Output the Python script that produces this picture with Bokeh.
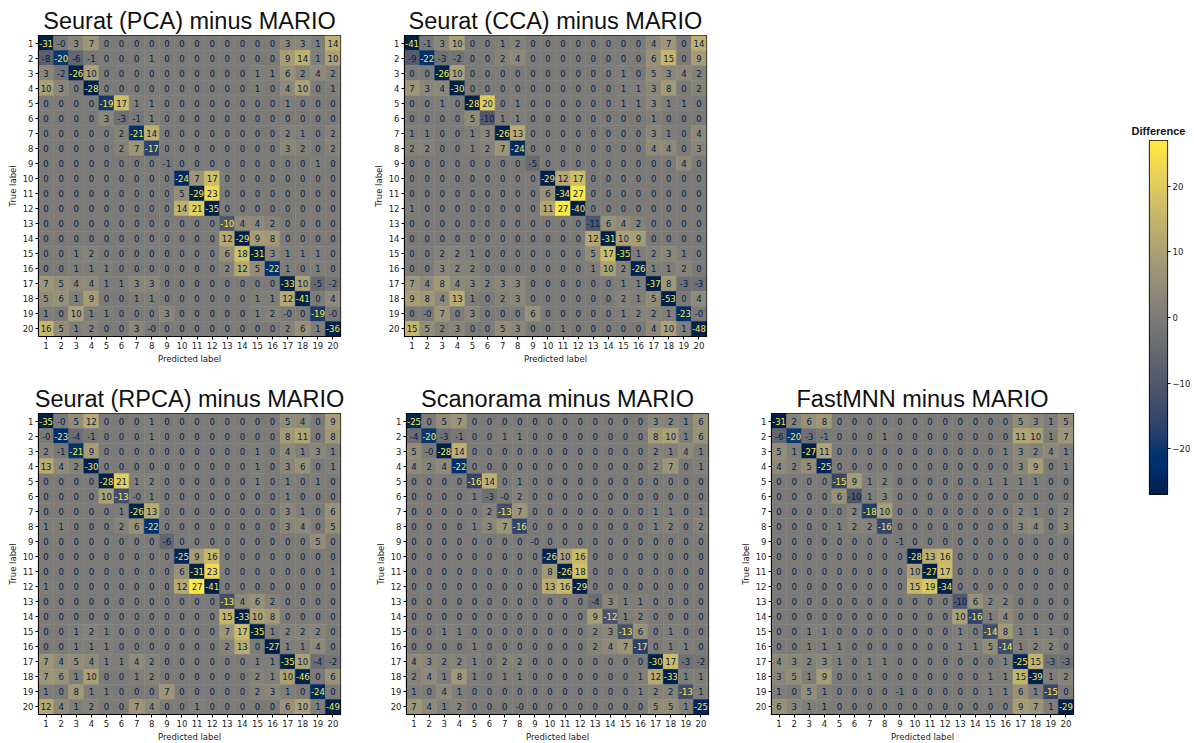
import numpy as np
from bokeh.plotting import figure
from bokeh.layouts import row, column
from bokeh.models import ColumnDataSource, Range1d, FixedTicker, LinearColorMapper, LinearAxis
from bokeh.palettes import Cividis256
from bokeh.core.properties import value
from bokeh.embed import file_html
from bokeh.resources import INLINE

# Class labels shared by every confusion-matrix difference
class_labels = [str(i) for i in range(1, 21)]

# Difference matrices (method minus MARIO); rows = true label, cols = predicted label.
# Small negative entries (shown as "-0") are kept as fractional negatives.
seurat_pca = [
    [-31, -0.4, 3, 7, 0, 0, 0, 0, 0, 0, 0, 0, 0, 0, 0, 0, 3, 3, 1, 14],
    [-8, -20, -6, -1, 0, 0, 0, 1, 0, 0, 0, 0, 0, 0, 0, 0, 9, 14, 1, 10],
    [3, -2, -26, 10, 0, 0, 0, 0, 0, 0, 0, 0, 0, 0, 1, 1, 6, 2, 4, 2],
    [10, 3, 0, -28, 0, 0, 0, 0, 0, 0, 0, 0, 0, 0, 1, 0, 4, 10, 0, 1],
    [0, 0, 0, 0, -19, 17, 1, 1, 0, 0, 0, 0, 0, 0, 0, 0, 1, 0, 0, 0],
    [0, 0, 0, 0, 3, -3, -1, 1, 0, 0, 0, 0, 0, 0, 0, 0, 0, 0, 0, 0],
    [0, 0, 0, 0, 0, 2, -21, 14, 0, 0, 0, 0, 0, 0, 0, 0, 2, 1, 0, 2],
    [0, 0, 0, 0, 0, 2, 7, -17, 0, 0, 0, 0, 0, 0, 0, 0, 3, 2, 0, 2],
    [0, 0, 0, 0, 0, 0, 0, 0, -1, 0, 0, 0, 0, 0, 0, 0, 0, 0, 1, 0],
    [0, 0, 0, 0, 0, 0, 0, 0, 0, -24, 7, 17, 0, 0, 0, 0, 0, 0, 0, 0],
    [0, 0, 0, 0, 0, 0, 0, 0, 0, 5, -29, 23, 0, 0, 0, 0, 0, 0, 0, 0],
    [0, 0, 0, 0, 0, 0, 0, 0, 0, 14, 21, -35, 0, 0, 0, 0, 0, 0, 0, 0],
    [0, 0, 0, 0, 0, 0, 0, 0, 0, 0, 0, 0, -10, 4, 4, 2, 0, 0, 0, 0],
    [0, 0, 0, 0, 0, 0, 0, 0, 0, 0, 0, 0, 12, -29, 9, 8, 0, 0, 0, 0],
    [0, 0, 1, 2, 0, 0, 0, 0, 0, 0, 0, 0, 6, 18, -31, 3, 1, 1, 1, 0],
    [0, 0, 1, 1, 1, 0, 0, 0, 0, 0, 0, 0, 2, 12, 5, -22, 1, 0, 1, 0],
    [7, 5, 4, 4, 1, 1, 3, 3, 0, 0, 0, 0, 0, 0, 0, 0, -33, 10, -5, -2],
    [5, 6, 1, 9, 0, 0, 1, 1, 0, 0, 0, 0, 0, 0, 1, 1, 12, -41, 0, 4],
    [1, 0, 10, 1, 1, 0, 0, 0, 3, 0, 0, 0, 0, 0, 1, 2, -0.4, 0, -19, -0.4],
    [16, 5, 1, 2, 0, 0, 3, -0.4, 0, 0, 0, 0, 0, 0, 0, 0, 2, 6, 1, -36],
]

seurat_cca = [
    [-41, -1, 3, 10, 0, 0, 1, 2, 0, 0, 0, 0, 0, 0, 0, 0, 4, 7, 0, 14],
    [-9, -22, -3, -2, 0, 0, 2, 4, 0, 0, 0, 0, 0, 0, 0, 0, 6, 15, 0, 9],
    [0, 0, -26, 10, 0, 0, 0, 0, 0, 0, 0, 0, 0, 0, 1, 0, 5, 3, 4, 2],
    [7, 3, 4, -30, 0, 0, 0, 0, 0, 0, 0, 0, 0, 0, 1, 1, 3, 8, 0, 2],
    [0, 0, 1, 0, -28, 20, 0, 1, 0, 0, 0, 0, 0, 0, 1, 1, 3, 1, 1, 0],
    [0, 0, 0, 0, 5, -10, 1, 1, 0, 0, 0, 0, 0, 0, 0, 0, 1, 0, 0, 0],
    [1, 1, 0, 0, 1, 3, -26, 13, 0, 0, 0, 0, 0, 0, 0, 0, 3, 1, 0, 4],
    [2, 2, 0, 0, 1, 2, 7, -24, 0, 0, 0, 0, 0, 0, 0, 0, 4, 4, 0, 3],
    [0, 0, 0, 0, 0, 0, 0, 0, -5, 0, 0, 0, 0, 0, 0, 0, 0, 0, 4, 0],
    [0, 0, 0, 0, 0, 0, 0, 0, 0, -29, 12, 17, 0, 0, 0, 0, 0, 0, 0, 0],
    [0, 0, 0, 0, 0, 0, 0, 0, 0, 6, -34, 27, 0, 0, 0, 0, 0, 0, 0, 0],
    [1, 0, 0, 0, 0, 0, 0, 0, 0, 11, 27, -40, 0, 0, 0, 0, 0, 0, 0, 0],
    [0, 0, 0, 0, 0, 0, 0, 0, 0, 0, 0, 0, -11, 6, 4, 2, 0, 0, 0, 0],
    [0, 0, 0, 0, 0, 0, 0, 0, 0, 0, 0, 0, 12, -31, 10, 9, 0, 0, 0, 0],
    [0, 0, 2, 2, 1, 0, 0, 0, 0, 0, 0, 0, 5, 17, -35, 1, 2, 3, 1, 0],
    [0, 0, 3, 2, 2, 0, 0, 0, 0, 0, 0, 0, 1, 10, 2, -26, 1, 1, 2, 0],
    [7, 4, 8, 4, 3, 2, 3, 3, 0, 0, 0, 0, 0, 0, 1, 1, -37, 8, -3, -3],
    [9, 8, 4, 13, 1, 0, 2, 3, 0, 0, 0, 0, 0, 0, 2, 1, 5, -53, 0, 4],
    [0, -0.4, 7, 0, 3, 0, 0, 0, 6, 0, 0, 0, 0, 0, 1, 2, 2, 1, -23, -0.4],
    [15, 5, 2, 3, 0, 0, 5, 3, 0, 0, 1, 0, 0, 0, 0, 0, 4, 10, 1, -48],
]

seurat_rpca = [
    [-35, -0.4, 5, 12, 0, 0, 0, 1, 0, 0, 0, 0, 0, 0, 0, 0, 5, 4, 0, 9],
    [-0.4, -23, -4, -1, 0, 0, 0, 1, 0, 0, 0, 0, 0, 0, 0, 0, 8, 11, 0, 8],
    [2, -1, -21, 9, 0, 0, 0, 0, 0, 0, 0, 0, 0, 0, 1, 0, 4, 1, 3, 1],
    [13, 4, 2, -30, 0, 0, 0, 0, 0, 0, 0, 0, 0, 0, 1, 0, 3, 6, 0, 1],
    [0, 0, 0, 0, -28, 21, 1, 2, 0, 0, 0, 0, 0, 0, 1, 0, 1, 0, 1, 0],
    [0, 0, 0, 0, 10, -13, -0.4, 1, 0, 0, 0, 0, 0, 0, 0, 0, 1, 0, 0, 0],
    [0, 0, 0, 0, 0, 1, -26, 13, 0, 0, 0, 0, 0, 0, 0, 0, 3, 1, 0, 6],
    [1, 1, 0, 0, 0, 2, 6, -22, 0, 0, 0, 0, 0, 0, 0, 0, 3, 4, 0, 5],
    [0, 0, 0, 0, 0, 0, 0, 0, -6, 0, 0, 0, 0, 0, 0, 0, 0, 0, 5, 0],
    [0, 0, 0, 0, 0, 0, 0, 0, 0, -25, 9, 16, 0, 0, 0, 0, 0, 0, 0, 0],
    [0, 0, 0, 0, 0, 0, 0, 0, 0, 6, -31, 23, 0, 0, 0, 0, 0, 0, 0, 1],
    [1, 0, 0, 0, 0, 0, 0, 0, 0, 12, 27, -41, 0, 0, 0, 0, 0, 0, 0, 0],
    [0, 0, 0, 0, 0, 0, 0, 0, 0, 0, 0, 0, -13, 4, 6, 2, 0, 0, 0, 0],
    [0, 0, 0, 0, 0, 0, 0, 0, 0, 0, 0, 0, 15, -33, 10, 8, 0, 0, 0, 0],
    [0, 0, 1, 2, 1, 0, 0, 0, 0, 0, 0, 0, 7, 17, -35, 1, 2, 2, 2, 0],
    [0, 0, 1, 1, 1, 0, 0, 0, 0, 0, 0, 0, 2, 13, 0, -27, 1, 1, 4, 0],
    [7, 4, 5, 4, 1, 1, 4, 2, 0, 0, 0, 0, 0, 0, 1, 1, -35, 10, -4, -2],
    [7, 6, 1, 10, 0, 0, 1, 2, 0, 0, 0, 0, 0, 0, 2, 1, 10, -46, 0, 6],
    [1, 0, 8, 1, 1, 0, 0, 0, 7, 0, 0, 0, 0, 0, 2, 3, 1, 0, -24, 0],
    [12, 4, 1, 2, 0, 0, 7, 4, 0, 0, 1, 0, 0, 0, 0, 0, 6, 10, 1, -49],
]

scanorama = [
    [-25, 0, 5, 7, 0, 0, 0, 0, 0, 0, 0, 0, 0, 0, 0, 0, 3, 2, 1, 6],
    [-4, -20, -3, -1, 0, 0, 1, 1, 0, 0, 0, 0, 0, 0, 0, 0, 8, 10, 1, 6],
    [5, -0.4, -28, 14, 0, 0, 0, 0, 0, 0, 0, 0, 0, 0, 0, 0, 2, 1, 4, 1],
    [4, 2, 4, -22, 0, 0, 0, 0, 0, 0, 0, 0, 0, 0, 0, 0, 2, 7, 0, 1],
    [0, 0, 0, 0, -16, 14, 0, 1, 0, 0, 0, 0, 0, 0, 0, 0, 0, 0, 0, 0],
    [0, 0, 0, 0, 1, -3, -0.4, 2, 0, 0, 0, 0, 0, 0, 0, 0, 0, 0, 0, 0],
    [0, 0, 0, 0, 0, 2, -13, 7, 0, 0, 0, 0, 0, 0, 0, 0, 1, 1, 0, 1],
    [0, 0, 0, 0, 1, 3, 7, -16, 0, 0, 0, 0, 0, 0, 0, 0, 1, 2, 0, 2],
    [0, 0, 0, 0, 0, 0, 0, 0, -0.4, 0, 0, 0, 0, 0, 0, 0, 0, 0, 0, 0],
    [0, 0, 0, 0, 0, 0, 0, 0, 0, -26, 10, 16, 0, 0, 0, 0, 0, 0, 0, 0],
    [0, 0, 0, 0, 0, 0, 0, 0, 0, 8, -26, 18, 0, 0, 0, 0, 0, 0, 0, 0],
    [0, 0, 0, 0, 0, 0, 0, 0, 0, 13, 16, -29, 0, 0, 0, 0, 0, 0, 0, 0],
    [0, 0, 0, 0, 0, 0, 0, 0, 0, 0, 0, 0, -4, 3, 1, 1, 0, 0, 0, 0],
    [0, 0, 0, 0, 0, 0, 0, 0, 0, 0, 0, 0, 9, -12, 1, 2, 0, 0, 0, 0],
    [0, 0, 1, 1, 0, 0, 0, 0, 0, 0, 0, 0, 2, 3, -13, 6, 0, 1, 0, 0],
    [0, 0, 0, 0, 1, 0, 0, 0, 0, 0, 0, 0, 2, 4, 7, -17, 0, 1, 1, 0],
    [4, 3, 2, 2, 1, 0, 2, 2, 0, 0, 0, 0, 0, 0, 0, 0, -30, 17, -3, -2],
    [2, 4, 1, 8, 1, 0, 1, 1, 0, 0, 0, 0, 0, 0, 0, 1, 12, -33, 1, 1],
    [1, 0, 4, 1, 0, 0, 0, 0, 0, 0, 0, 0, 0, 0, 0, 1, 2, 2, -13, 1],
    [7, 4, 1, 2, 0, 0, 0, -0.4, 0, 0, 0, 0, 0, 0, 0, 0, 5, 5, 1, -25],
]

fastmnn = [
    [-31, 2, 6, 8, 0, 0, 0, 0, 0, 0, 0, 0, 0, 0, 0, 0, 5, 3, 1, 5],
    [-6, -20, -3, -1, 0, 0, 0, 1, 0, 0, 0, 0, 0, 0, 0, 0, 11, 10, 1, 7],
    [5, 1, -27, 11, 0, 0, 0, 0, 0, 0, 0, 0, 0, 0, 0, 1, 3, 2, 4, 1],
    [4, 2, 5, -25, 0, 0, 0, 0, 0, 0, 0, 0, 0, 0, 0, 0, 3, 9, 0, 1],
    [0, 0, 0, 0, -15, 9, 1, 2, 0, 0, 0, 0, 0, 0, 1, 1, 1, 1, 0, 0],
    [0, 0, 0, 0, 6, -10, 1, 3, 0, 0, 0, 0, 0, 0, 0, 0, 0, 0, 0, 0],
    [0, 0, 0, 0, 0, 2, -18, 10, 0, 0, 0, 0, 0, 0, 0, 0, 2, 1, 0, 2],
    [0, 0, 0, 0, 1, 2, 2, -16, 0, 0, 0, 0, 0, 0, 0, 0, 3, 4, 0, 3],
    [0, 0, 0, 0, 0, 0, 0, 0, -1, 0, 0, 0, 0, 0, 0, 0, 0, 0, 0, 0],
    [0, 0, 0, 0, 0, 0, 0, 0, 0, -28, 13, 16, 0, 0, 0, 0, 0, 0, 0, 0],
    [0, 0, 0, 0, 0, 0, 0, 0, 0, 10, -27, 17, 0, 0, 0, 0, 0, 0, 0, 0],
    [0, 0, 0, 0, 0, 0, 0, 0, 0, 15, 19, -34, 0, 0, 0, 0, 0, 0, 0, 0],
    [0, 0, 0, 0, 0, 0, 0, 0, 0, 0, 0, 0, -10, 6, 2, 2, 0, 0, 0, 0],
    [0, 0, 0, 0, 0, 0, 0, 0, 0, 0, 0, 0, 10, -16, 1, 4, 0, 0, 0, 0],
    [0, 0, 1, 1, 0, 0, 0, 0, 0, 0, 0, 0, 1, 0, -14, 8, 1, 1, 1, 0],
    [0, 0, 1, 1, 1, 0, 0, 0, 0, 0, 0, 0, 1, 1, 5, -14, 1, 2, 2, 0],
    [4, 3, 2, 3, 1, 0, 1, 1, 0, 0, 0, 0, 0, 0, 0, 1, -25, 15, -3, -3],
    [3, 5, 1, 9, 0, 0, 1, 0, 0, 0, 0, 0, 0, 0, 1, 1, 15, -39, 1, 2],
    [1, 0, 5, 1, 0, 0, 0, 0, -1, 0, 0, 0, 0, 0, 1, 1, 6, 1, -15, 0],
    [6, 3, 1, 1, 0, 0, 0, 0, 0, 0, 0, 0, 0, 0, 0, 0, 9, 7, 1, -29],
]

# Shared colour scale for all panels
color_low, color_high = -27, 27
colorbar_ticks = [-20, -10, 0, 10, 20]

mapper = LinearColorMapper(palette=Cividis256, low=color_low, high=color_high)
TEXT_ON_DARK = Cividis256[-1]
TEXT_ON_LIGHT = Cividis256[0]

TICK_FONT = "DejaVu Sans"
TITLE_FONT = "Liberation Sans"


def heatmap(title, mat, left, right, top, bottom):
    m = np.array(mat, dtype=float)
    thresh = (m.max() + m.min()) / 2.0
    xs, ys, vals, labels, tcolors = [], [], [], [], []
    for i in range(len(class_labels)):
        for j in range(len(class_labels)):
            v = m[i, j]
            xs.append(j + 1)
            ys.append(i + 1)
            vals.append(v)
            labels.append(format(v, ".0f"))
            tcolors.append(TEXT_ON_DARK if v < thresh else TEXT_ON_LIGHT)
    src = ColumnDataSource(dict(x=xs, y=ys, v=vals, label=labels, tc=tcolors))

    n = len(class_labels)
    p = figure(
        frame_width=302, frame_height=301,
        min_border_left=left, min_border_right=right,
        min_border_top=top, min_border_bottom=bottom,
        x_range=Range1d(0.5, n + 0.5), y_range=Range1d(n + 0.5, 0.5),
        output_backend="svg", toolbar_location=None, tools="",
        background_fill_color="white", border_fill_color="white",
    )
    p.rect(x="x", y="y", width=1, height=1, source=src,
           fill_color={"field": "v", "transform": mapper},
           line_color={"field": "v", "transform": mapper}, line_width=0.5)
    p.text(x="x", y="y", text="label", source=src, text_color="tc",
           text_align="center", text_baseline="middle",
           text_font=value(TICK_FONT), text_font_size="8.5px")

    p.title.text = title
    p.title.align = "center"
    p.title.text_font = TITLE_FONT
    p.title.text_font_size = "23.5px"
    p.title.text_font_style = "normal"
    p.title.text_color = "#111111"
    p.title.standoff = 4

    p.grid.grid_line_color = None
    p.outline_line_color = "black"
    p.outline_line_width = 1.2
    for ax in (p.xaxis, p.yaxis):
        ax.ticker = FixedTicker(ticks=list(range(1, n + 1)))
        ax.major_label_overrides = {k + 1: lab for k, lab in enumerate(class_labels)}
        ax.major_label_text_font = TICK_FONT
        ax.major_label_text_font_size = "8.5px"
        ax.major_label_text_color = "#222222"
        ax.major_tick_out = 3
        ax.major_tick_in = 0
        ax.minor_tick_out = 0
        ax.minor_tick_in = 0
        ax.major_label_standoff = 2
        ax.axis_label_standoff = 2
        ax.axis_label_text_font = TICK_FONT
        ax.axis_label_text_font_size = "8.5px"
        ax.axis_label_text_font_style = "normal"
        ax.axis_label_text_color = "#222222"
        ax.axis_line_color = "black"
    p.xaxis.axis_label = "Predicted label"
    p.yaxis.axis_label = "True label"
    return p


f1 = heatmap("Seurat (PCA) minus MARIO", seurat_pca, 38, 26, 35, 37)
f2 = heatmap("Seurat (CCA) minus MARIO", seurat_cca, 38, 26, 35, 37)
f3 = heatmap("Seurat (RPCA) minus MARIO", seurat_rpca, 38, 26, 40, 29)
f4 = heatmap("Scanorama minus MARIO", scanorama, 40, 24, 40, 29)
f5 = heatmap("FastMNN minus MARIO", fastmnn, 39, 17, 40, 29)

# Colour bar drawn as a gradient image against its own value axis
cb = figure(
    frame_width=18, frame_height=354,
    min_border_left=59, min_border_right=27, min_border_top=140, min_border_bottom=249,
    x_range=Range1d(0, 1), y_range=Range1d(color_low, color_high),
    output_backend="svg", toolbar_location=None, tools="",
    background_fill_color="white", border_fill_color="white",
)
gradient = np.linspace(color_low, color_high, 256).reshape(256, 1)
cb.image(image=[gradient], x=0, y=color_low, dw=1, dh=color_high - color_low,
         color_mapper=mapper)
cb.xaxis.visible = False
cb.yaxis.visible = False
cb.grid.grid_line_color = None
cb.outline_line_color = "black"
cb.outline_line_width = 1.2
cbax = LinearAxis(ticker=FixedTicker(ticks=colorbar_ticks))
cbax.major_label_overrides = {t: (str(t).replace("-", "\u2212")) for t in colorbar_ticks}
cbax.major_label_text_font = TICK_FONT
cbax.major_label_text_font_size = "8.5px"
cbax.major_label_text_color = "#222222"
cbax.major_tick_out = 3
cbax.major_tick_in = 0
cbax.minor_tick_out = 0
cbax.minor_tick_in = 0
cbax.major_label_standoff = 2
cbax.axis_line_color = None
cb.add_layout(cbax, "right")
cb.title.text = "Difference"
cb.title.align = "center"
cb.title.text_font = TITLE_FONT
cb.title.text_font_size = "11px"
cb.title.text_font_style = "bold"
cb.title.text_color = "#111111"
cb.title.standoff = 8

grid = column(row(f1, f2), row(f3, f4, f5))
p = row(grid, cb)

open("out.html", "w").write(file_html(p, INLINE))
